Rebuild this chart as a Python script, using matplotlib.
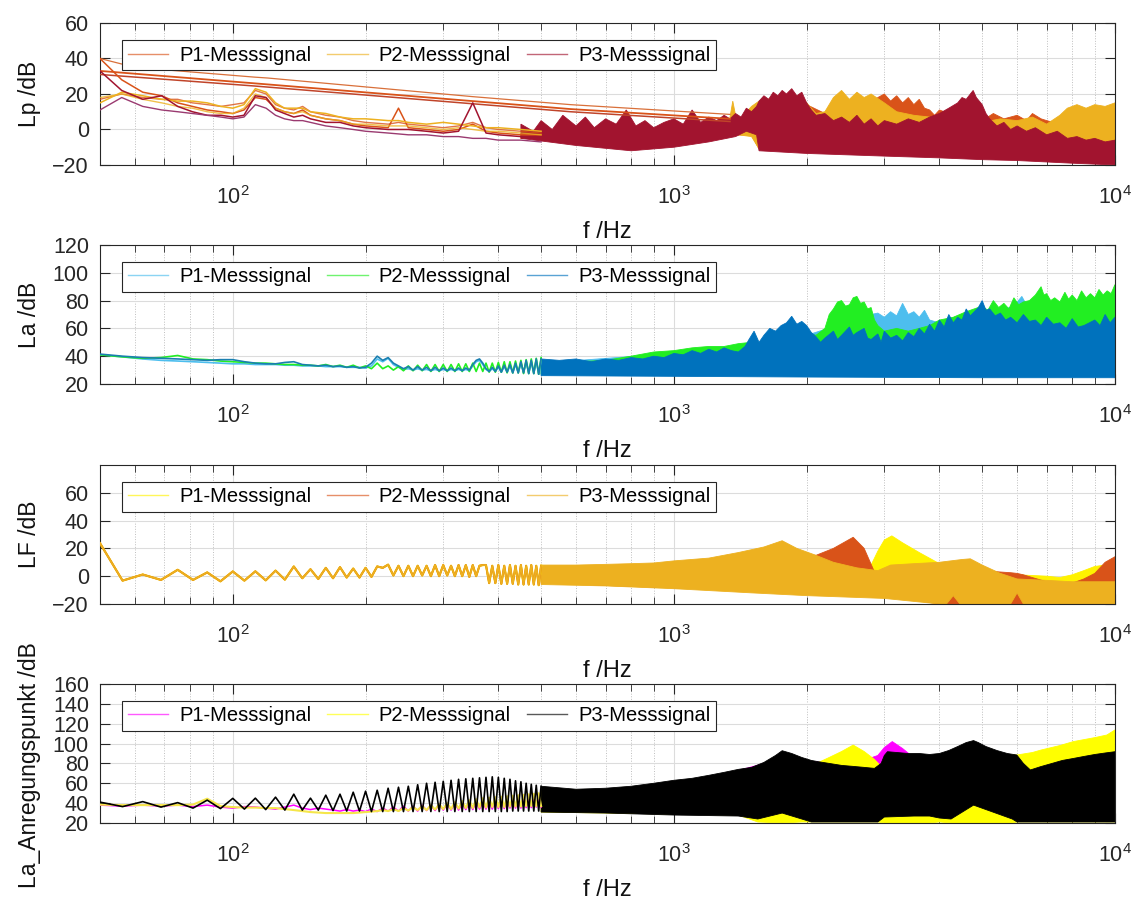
import matplotlib
matplotlib.use('Agg')
import matplotlib.pyplot as plt
from matplotlib.lines import Line2D
from matplotlib.ticker import FixedLocator, LogLocator, NullFormatter

plt.rcParams['font.family'] = ['Liberation Sans', 'DejaVu Sans']
plt.rcParams['mathtext.default'] = 'regular'

# ---- FFT-Raster (6.25 Hz) im niederfrequenten Bereich ----
F_BIN = [50, 56.25, 62.5, 68.75, 75, 81.25, 87.5, 93.75,
         100, 106.25, 112.5, 118.75, 125, 131.25, 137.5, 143.75,
         150, 156.25, 162.5, 168.75, 175, 181.25, 187.5, 193.75,
         200, 206.25, 212.5, 218.75, 225, 231.25, 237.5, 243.75,
         250, 256.25, 262.5, 268.75, 275, 281.25, 287.5, 293.75,
         300, 306.25, 312.5, 318.75, 325, 331.25, 337.5, 343.75,
         350, 356.25, 362.5, 368.75, 375, 381.25, 387.5, 393.75,
         400, 406.25, 412.5, 418.75, 425, 431.25, 437.5, 443.75,
         450, 456.25, 462.5, 468.75, 475, 481.25, 487.5, 493.75,
         500]

# ================= Lp =================
LP_F = [50, 56, 62.5, 69, 75, 81, 87.5, 94, 100, 106, 112.5, 119, 125, 131, 137.5, 144,
        150, 162.5, 175, 187.5, 200, 212.5, 225, 237.5, 250, 275, 300, 325, 350, 375, 400, 450, 500]
LP_P1A = [40, 28, 21, 19, 15, 13, 11, 10, 9, 11, 18, 17, 12, 10, 9, 11,
          8, 6, 5, 3, 2, 1.5, 1, 12, 1, 0, -1, 0, 3, -1, -2, -3, -3]
LP_P1B = [17, 20, 18, 17, 17, 15, 14, 13, 14, 15, 22, 20, 14, 12, 11, 13,
          10, 8, 7, 5, 4, 3.5, 3, 4, 3, 2, 1, 2, 4, 1, 0, -1, -2]
LP_P2A = [15, 21, 19, 17, 16, 16, 15, 13, 12, 14, 23, 21, 15, 12, 12, 12,
          10, 9, 7, 6, 6, 5.5, 5, 5, 4, 3, 4, 3, 2, 1, 1, 0, -1]
LP_P2B = [18, 20, 17, 15, 13, 12, 10, 9, 9, 12, 20, 18, 12, 10, 9, 10,
          8, 6, 5, 3, 3, 2.5, 2, 2, 2, 1, 0, 1, 0, -1, -1, -2, -3]
LP_P3A = [33, 22, 17, 19, 13, 10, 8, 8, 7, 8, 19, 18, 11, 9, 7, 8,
          6, 4, 4, 2, 1, 0.5, 0, 0, 0, -1, -2, -1, 15, -2, -3, -4, -5]
LP_P3B = [11, 18, 13, 11, 10, 9, 8, 7, 6, 7, 14, 12, 8, 6, 5, 5,
          4, 2, 1, 0, -1, -1.5, -2, -2.5, -3, -3, -4, -4, -5, -5, -6, -6, -7]
# gerade Verläufe (gröbere Auflösung)
LP_S_F = [50, 60, 112, 120, 350, 583, 1340]
LP_S1 = [40, 35, 29.5, 29, 18.5, 14, 8.5]
LP_S2_F = [50, 112, 583, 1340]
LP_S2 = [33, 26, 11.5, 6]
LP_S3 = [31, 24.5, 10, 4.5]
# dichter Bereich: obere / untere Hüllkurve
LP_P1_HF_F = [450, 800, 1000, 1300, 1500, 1700, 2000, 2200, 2500, 2800,
              2900, 3000, 3100, 3200, 3300, 3400, 3500, 3600, 3700, 3800,
              3900, 4000, 4300, 4600, 5000, 5300, 5600, 6000, 6300, 6500,
              6800, 7000, 7500, 8000, 8500, 9000, 9500, 10000]
LP_P1_HF_UP = [-3, -2, -1, 0, 10, 17, 14, 9, 12, 14,
               18, 20, 16, 19, 15, 18, 14, 17, 12, 11,
               8, 11, 8, 6, 5, 9, 6, 8, 5, 9,
               6, 5, 3, 2, 4, 3, 6, 12]
LP_P1_HF_LO_F = [450, 1500, 1560, 3000, 10000]
LP_P1_HF_LO = [-5, -3, -11, -13, -17]
LP_P2_HF_F = [450, 600, 800, 1000, 1200, 1330, 1360, 1390, 1450, 1500,
              1560, 1700, 1900, 2000, 2100, 2200, 2300, 2400, 2500, 2600,
              2700, 2800, 3000, 3200, 3500, 3800, 4200, 4600, 5000, 5500,
              6000, 6500, 7000, 7500, 7800, 8200, 8600, 9000, 9500, 10000]
LP_P2_HF_UP = [-2, -1, 0, 0, 1, 2, 16, 4, 9, 13,
               16, 18, 19, 15, 9, 10, 18, 22, 17, 21,
               18, 20, 15, 10, 8, 7, 6, 5, 4, 6,
               5, 7, 3, 8, 12, 14, 12, 14, 13, 15]
LP_P2_HF_LO_F = [450, 1400, 1500, 1560, 3000, 10000]
LP_P2_HF_LO = [-5, -3, -4, -11, -13, -17]
LP_P3_HF_F = [450, 480, 500, 530, 560, 600, 630, 660, 700, 740,
              780, 820, 860, 900, 950, 1000, 1050, 1100, 1150, 1200,
              1250, 1300, 1340, 1380, 1420, 1460, 1500, 1540, 1560, 1600,
              1640, 1680, 1720, 1760, 1800, 1850, 1900, 1950, 2000, 2050,
              2100, 2200, 2300, 2400, 2500, 2600, 2700, 2800, 2900, 3000,
              3200, 3400, 3600, 3800, 4000, 4200, 4400, 4500, 4600, 4700,
              4770, 4850, 5000, 5100, 5200, 5400, 5600, 5800, 6000, 6300,
              6600, 7000, 7400, 7800, 8200, 8600, 9000, 9500, 10000]
LP_P3_HF_UP = [3, -1, 5, 0, 8, 2, 7, 1, 6, 3,
               11, 2, 5, 1, 4, 6, 3, 11, 4, 7,
               5, 8, 6, 9, 7, 12, 10, 13, 16, 19,
               17, 21, 19, 22, 20, 23, 19, 21, 15, 11,
               8, 9, 5, 7, 4, 8, 3, 6, 2, 5,
               3, 6, 4, 7, 9, 12, 15, 18, 17, 20,
               22, 18, 14, 9, 6, 2, 4, 0, 2, -1,
               1, -3, -1, -5, -4, -6, -5, -7, -6]
LP_P3_HF_LO_F = [450, 600, 800, 1000, 1200, 1380, 1460, 1540, 1560, 2000,
                 3000, 4000, 5000, 6000, 8000, 10000]
LP_P3_HF_LO = [-5, -9, -12, -10, -7, -4, -1, -3, -12, -13.5,
               -15, -16, -17, -17.5, -19, -20]

# ================= La =================
LA_P1_LOW = [41, 39.5, 38, 37, 36.5, 36, 35.5, 35,
             34.5, 34.5, 34, 34, 34, 33.5, 33.5, 33,
             33, 33, 32.5, 32.5, 32.5, 32, 32, 32,
             31.5, 33, 38, 36, 38.5, 34, 32, 30.5,
             31, 30, 31, 30, 30.5, 29.5, 30.5, 29.5,
             30.5, 29.5, 30.5, 29.5, 30.5, 29.5, 30.5, 29.5,
             33, 36, 37, 34, 30.5, 29, 31, 29,
             32, 28.5, 32.5, 28.5, 33, 28, 34, 28,
             35, 28, 36, 27.5, 36, 27.5, 37, 27,
             37]
LA_P2_LOW = [41, 39.5, 38.5, 39, 40.5, 38, 37.5, 36.5,
             36, 35.5, 35, 35, 34.5, 34, 34, 33.5,
             33.5, 33, 34, 32.5, 33.5, 32, 33.5, 31.5,
             33, 31, 35, 31, 33, 30, 32.5, 29.5,
             33, 29.5, 33.5, 29.5, 34, 29, 34, 29,
             34, 29, 34, 29, 34.5, 29, 34.5, 29,
             35, 29, 35, 29, 35, 28.5, 35, 28.5,
             35.5, 28.5, 36, 28, 36, 28, 36.5, 28,
             37, 27.5, 37.5, 27.5, 38, 27.5, 38.5, 27,
             39]
LA_P3_LOW = [41.5, 40, 39, 38.5, 38, 37.5, 37, 37.5,
             37.5, 36, 35, 34.5, 34.5, 35.5, 36, 34,
             33.5, 33, 33.5, 32.5, 33, 32, 32.5, 31.5,
             32, 35, 40, 37, 39, 35, 33, 31,
             32.5, 30, 32.5, 30, 32, 29.5, 32, 29.5,
             31.5, 29.5, 31.5, 29.5, 31.5, 29.5, 31.5, 30,
             34, 37, 38, 35, 31, 29, 32, 29,
             33, 28.5, 33.5, 28.5, 34, 28, 35, 28,
             36, 28, 37, 27.5, 37, 27.5, 38, 27,
             38]
LA_P1_HF_F = [500, 1000, 1500, 2000, 2500, 2800, 2900, 3000, 3100, 3200,
              3300, 3400, 3500, 3600, 3700, 3800, 4000, 4500, 5000, 5500,
              5900, 6150, 6300, 6600, 7000, 8000, 9000, 10000]
LA_P1_HF_UP = [35, 42, 48, 55, 65, 70, 71, 68, 72, 69,
               78, 70, 72, 68, 73, 66, 64, 70, 73, 73,
               76, 83, 77, 78, 76, 76, 80, 84]
LA_P2_HF_F = [500, 600, 700, 800, 900, 1000, 1100, 1200, 1300, 1400,
              1500, 1560, 1700, 1800, 1900, 2000, 2100, 2200, 2250, 2300,
              2350, 2400, 2450, 2500, 2550, 2600, 2650, 2700, 2750, 2800,
              2850, 2900, 3000, 3200, 3400, 3600, 3800, 4000, 4300, 4600,
              5000, 5150, 5300, 5450, 5600, 5750, 5900, 6050, 6200, 6400,
              6600, 6800, 6900, 7000, 7150, 7300, 7500, 7700, 7850, 8000,
              8200, 8400, 8600, 8800, 9000, 9200, 9400, 9600, 9800, 10000]
LA_P2_HF_UP = [36, 36, 37, 40, 43, 44, 46, 47, 47, 49,
               50, 49, 55, 60, 58, 57, 55, 60, 70, 74,
               79, 80, 76, 77, 82, 83, 78, 79, 74, 75,
               66, 62, 58, 60, 58, 60, 62, 66, 68, 72,
               76, 73, 80, 75, 78, 74, 82, 77, 79, 80,
               84, 90, 84, 85, 80, 82, 79, 86, 81, 84,
               80, 87, 82, 85, 82, 88, 84, 87, 85, 91.5]
LA_P3_HF_F = [500, 550, 600, 650, 700, 750, 800, 850, 900, 950,
              1000, 1050, 1100, 1150, 1200, 1250, 1300, 1350, 1400, 1450,
              1480, 1520, 1560, 1600, 1650, 1700, 1750, 1800, 1850, 1900,
              1950, 2000, 2050, 2100, 2150, 2200, 2300, 2350, 2400, 2500,
              2550, 2600, 2700, 2750, 2800, 2900, 2950, 3000, 3100, 3200,
              3300, 3400, 3500, 3600, 3700, 3800, 3900, 4000, 4100, 4200,
              4300, 4400, 4500, 4600, 4700, 4800, 4900, 5000, 5100, 5200,
              5350, 5500, 5650, 5800, 6000, 6200, 6400, 6600, 6800, 7000,
              7250, 7500, 7750, 8000, 8250, 8500, 8750, 9000, 9250, 9500,
              9750, 10000]
LA_P3_HF_UP = [38, 37, 38, 36, 38, 37, 39, 38, 40, 39,
               42, 41, 44, 42, 45, 43, 46, 44, 43, 47,
               52, 58, 50, 55, 60, 58, 62, 64, 68.7, 63,
               65, 62, 57, 54, 50, 53, 58, 52, 55, 61,
               55, 57, 60, 53, 52, 56, 50, 58, 53, 55,
               51, 57, 54, 60, 56, 63, 58, 66, 61, 70,
               64, 68, 66, 74, 69, 72, 75, 80, 73, 74,
               69, 71, 66, 68, 64, 70, 65, 66, 62, 68,
               63, 64, 60, 67, 61, 62, 64, 66, 62, 70,
               64, 68]
LA_LO_F = [500, 1000, 2000, 5000, 10000]
LA_P12_LO = [27, 26.5, 26, 26, 26]
LA_P3_LO = [26, 25.5, 25, 24.5, 24.5]

# ================= LF =================
LF_LOW = [23.7, -3.2, 1.2, -2.7, 4.6, -2.7, 2.7, -3.7,
          3.4, -3.2, 3.5, -3, 4, -2.5, 7, -1.5,
          5, -2, 6, -1.5, 6.5, -1, 5.5, -1,
          6, -0.5, 7, 6, 8.3, 0.5, 7.5, 0,
          7.5, 0, 7.5, 0.5, 7.5, 0, 8, 0,
          8, 0.5, 7.5, 0, 8, 0, 8, -0.5,
          8, 0, 7.5, 8, 8, -5, 7.5, -5,
          8, -5.5, 7.5, -5.5, 8, -5.5, 7.5, -6,
          8, -6, 7.5, -6, 8, -6, 7.5, -6.5,
          7.5]
LF_P1_HF_F = [500, 1000, 2000, 2500, 2800, 2900, 3000, 3120, 3300, 3600,
              4000, 4500, 5000, 5500, 6000, 7000, 7500, 8000, 8500, 9000,
              9500, 10000]
LF_P1_HF_UP = [7, 8, 10, 12, 8, 18, 26, 29, 24, 17,
               9, 6, 4, 2, 1, 0, -1, 1, 4, 7,
               8, 11]
LF_P1_HF_LO_F = [500, 10000]
LF_P1_HF_LO = [-4, -16]
LF_P2_HF_F = [500, 1000, 1500, 1900, 2100, 2300, 2550, 2700, 2850, 3000,
              3500, 4000, 4100, 4300, 4500, 5000, 5500, 5800, 6000, 6200,
              6500, 7000, 7500, 8000, 8500, 9000, 9500, 10000]
LF_P2_HF_UP = [7, 8, 12, 15, 15, 20, 28, 20, 3, 2,
               3, 5, 5, 5, 5, 4, 3, 2.5, 2, 1,
               -1, -4, -6, -5, -2, 2, 10, 14]
LF_P2_HF_LO_F = [500, 3000, 4000, 10000]
LF_P2_HF_LO = [-5, -14, -20, -20]
LF_P3_HF_F = [500, 600, 700, 800, 900, 1000, 1200, 1400, 1600, 1760,
              1900, 2100, 2300, 2600, 2900, 3100, 3500, 4000, 4500, 4700,
              5000, 5500, 6000, 7000, 8000, 10000]
LF_P3_HF_UP = [8, 8, 8.5, 9, 9.5, 11, 13, 17, 21, 25.5,
               20, 15, 10, 6, 4, 8, 9, 10, 12, 12.5,
               8, 2, -2, -3, -4, -4]
LF_P3_HF_LO_F = [500, 700, 1000, 1500, 2000, 3000, 4000, 4150, 4300, 4450,
                 5800, 6000, 6200, 10000]
LF_P3_HF_LO = [-6, -7, -9, -12, -14, -16, -20, -20, -14, -20,
               -20, -12, -20, -20]

# ================= La_Anregungspunkt =================
AP_P1_LOW = [38, 37, 38, 37, 38, 36.5, 38, 36,
             35, 36.5, 36, 35, 34, 36, 38, 35,
             33.5, 35, 34, 33, 32, 33.5, 32, 33,
             31.5, 34, 31.5, 35, 32, 36, 32, 37,
             32, 37, 32, 38, 32.5, 38, 32.5, 39,
             33, 39, 33, 40, 33, 40, 33.5, 40.5,
             33.5, 41, 34, 41, 34, 41.5, 34, 42,
             34.5, 42, 34.5, 42.5, 35, 43, 35, 43,
             35, 43.5, 35.5, 44, 35.5, 44, 36, 44.5,
             36]
AP_P2_LOW = [38.5, 38, 38, 38, 38, 38.5, 44.5, 37,
             36, 35.5, 35.5, 35, 35, 34, 33, 32,
             31, 30.5, 30, 30, 30, 30, 30, 30.5,
             31, 31.5, 32, 33, 32, 34, 32, 35,
             32.5, 36, 33, 37, 33, 38, 33.5, 39,
             34, 40, 34, 41, 34.5, 42, 35, 43,
             35, 44, 35.5, 45, 35.5, 45.5, 36, 46,
             36, 46.5, 36, 47, 36.5, 47.5, 36.5, 48,
             36.5, 48.5, 37, 49, 37, 49.5, 37, 50,
             37]
AP_P3_LOW = [41, 36.5, 41.5, 36, 40.5, 35, 43, 34.5,
             44.8, 34, 45, 33.5, 46, 33, 49, 33,
             45, 33, 48, 32.5, 49, 32, 51, 32,
             52, 31.5, 53, 31.5, 55, 31.5, 56, 31.5,
             57, 31.5, 58.5, 31.5, 60, 31.5, 61, 31.5,
             62, 31.5, 63, 31.5, 64, 31.5, 64.5, 31.5,
             65, 31.5, 65.5, 31.5, 66, 31.5, 66.5, 31.5,
             66, 31.5, 65, 31.5, 64, 32, 62.5, 32,
             61.5, 32, 60, 32, 59, 32, 58, 32,
             57]
AP_P1_HF_F = [500, 1000, 1760, 2500, 2900, 3000, 3127, 3300, 3450, 4000,
              5000, 6000, 8000, 10000]
AP_P1_HF_UP = [45, 55, 85, 78, 88, 96, 102, 95, 88, 85,
               90, 80, 75, 85]
AP_P1_HF_LO_F = [500, 10000]
AP_P1_HF_LO = [40, 40]
AP_P2_HF_F = [500, 600, 700, 800, 900, 1000, 1200, 1500, 1760, 2128,
              2250, 2400, 2550, 2700, 2850, 2950, 3100, 4000, 5000, 6000,
              6500, 6800, 7500, 8050, 9000, 9585, 10000]
AP_P2_HF_UP = [52, 53, 52, 53, 55, 57, 62, 70, 80, 81,
               86, 92, 98.5, 92, 84, 77, 80, 85, 88, 88.5,
               91, 93.5, 98, 102, 106, 108.6, 113.7]
AP_P2_HF_LO_F = [500, 1400, 1550, 1760, 1950, 2050, 2900, 3000, 3800, 4000,
                 4250, 5850, 6000, 10000]
AP_P2_HF_LO = [31, 28, 21, 20, 21, 21, 21, 20, 20, 21,
               20, 20, 21, 21]
AP_P3_HF_F = [500, 600, 700, 800, 900, 1000, 1100, 1200, 1300, 1400,
              1500, 1600, 1700, 1760, 1850, 1950, 2050, 2128, 2250, 2400,
              2550, 2700, 2850, 2950, 3000, 3050, 3200, 3400, 3600, 3800,
              4000, 4200, 4400, 4600, 4780, 4900, 5100, 5400, 5700, 5990,
              6200, 6430, 6780, 7200, 7600, 8050, 8500, 9000, 9500, 10000]
AP_P3_HF_UP = [57, 54, 55, 57, 60, 63, 65, 68, 71, 74,
               76, 81, 88, 92.8, 90, 86, 83, 81.7, 80, 78,
               77, 76, 75, 80, 88, 91.8, 91, 90, 90, 89,
               90, 93, 97, 101, 103, 101, 97, 93, 90, 88.5,
               80, 73.4, 76.7, 80, 83, 85, 87, 89, 90.5, 91.8]
AP_P3_HF_LO_F = [500, 700, 1000, 1400, 1550, 1760, 1950, 2050, 2900, 3000,
                 3500, 3800, 4000, 4250, 4780, 5850, 6000, 10000]
AP_P3_HF_LO = [31, 30, 28, 27, 24, 30, 24, 21, 21, 26,
               27, 27, 25, 24, 38, 24, 21, 21]

LEGEND = ['P1-Messsignal', 'P2-Messsignal', 'P3-Messsignal']
AXCOL = '#262626'


def band(ax, fu, vu, fl, vl, col):
    xs = list(fu) + list(fl)[::-1]
    ys = list(vu) + list(vl)[::-1]
    ax.fill(xs, ys, color=col, lw=0.6, ec=col, zorder=2)


def style(ax, ylim, yticks, ylabel, cols, ylab_y=0.5):
    ax.set_xscale('log')
    ax.set_xlim(50, 10000)
    ax.set_ylim(*ylim)
    ax.set_yticks(yticks)
    ax.xaxis.set_major_locator(FixedLocator([100, 1000, 10000]))
    ax.xaxis.set_minor_locator(LogLocator(base=10, subs=(2, 3, 4, 5, 6, 7, 8, 9)))
    ax.xaxis.set_minor_formatter(NullFormatter())
    ax.set_axisbelow(True)
    ax.grid(True, which='major', color='#DCDCDC', lw=0.8, ls='-')
    ax.grid(True, which='minor', axis='x', color='#BEBEBE', lw=0.7, ls=':')
    ax.tick_params(which='both', direction='in', top=True, right=True, colors=AXCOL)
    ax.tick_params(which='major', length=7, width=0.8, labelsize=15.5)
    ax.tick_params(which='minor', length=5, width=0.6)
    ax.tick_params(axis='x', which='major', pad=15)
    ax.tick_params(axis='y', pad=8)
    for s in ax.spines.values():
        s.set_color(AXCOL); s.set_linewidth(0.8)
    ax.set_xlabel('f /Hz', fontsize=17, labelpad=9, color='#111111')
    ax.set_ylabel(ylabel, fontsize=16.5, color='#111111')
    ax.yaxis.set_label_coords(-0.058, ylab_y)
    hs = [Line2D([], [], color=c, lw=1.0, alpha=0.65) for c in cols]
    lg = ax.legend(hs, LEGEND, loc='upper left', bbox_to_anchor=(0.0217, 0.88), ncol=3,
                   fontsize=14.5, frameon=True, fancybox=False, framealpha=1,
                   edgecolor=AXCOL, borderpad=0.28, borderaxespad=0,
                   handlelength=2.0, handletextpad=0.55, columnspacing=0.8)
    lg.get_frame().set_linewidth(0.8)
    lg.set_zorder(5)


fig = plt.figure(figsize=(11.39, 9.02), dpi=100)
L, W = 0.0878, 0.8911
ax1 = fig.add_axes([L, 0.8171, W, 0.1574])
ax2 = fig.add_axes([L, 0.5743, W, 0.1541])
ax3 = fig.add_axes([L, 0.3304, W, 0.1541])
ax4 = fig.add_axes([L, 0.0876, W, 0.1541])

# ---- Lp ----
C1 = ['#D95319', '#EDB120', '#A2142F']
ax1.plot(LP_S_F, LP_S1, color='#D9703A', lw=0.9, zorder=3)
ax1.plot(LP_S2_F, LP_S2, color='#D95319', lw=1.3, zorder=3)
ax1.plot(LP_S2_F, LP_S3, color='#C0442A', lw=1.1, zorder=3)
ax1.plot(LP_F, LP_P1A, color=C1[0], lw=1.1, zorder=3)
ax1.plot(LP_F, LP_P1B, color=C1[0], lw=1.0, alpha=0.8, zorder=3)
ax1.plot(LP_F, LP_P2A, color=C1[1], lw=1.1, zorder=3)
ax1.plot(LP_F, LP_P2B, color=C1[1], lw=1.0, alpha=0.8, zorder=3)
ax1.plot(LP_F, LP_P3A, color=C1[2], lw=1.1, zorder=3)
ax1.plot(LP_F, LP_P3B, color='#9A3A70', lw=1.0, zorder=3)
band(ax1, LP_P1_HF_F, LP_P1_HF_UP, LP_P1_HF_LO_F, LP_P1_HF_LO, C1[0])
band(ax1, LP_P2_HF_F, LP_P2_HF_UP, LP_P2_HF_LO_F, LP_P2_HF_LO, C1[1])
band(ax1, LP_P3_HF_F, LP_P3_HF_UP, LP_P3_HF_LO_F, LP_P3_HF_LO, C1[2])
style(ax1, (-20, 60), [-20, 0, 20, 40, 60], 'Lp /dB', C1)

# ---- La ----
C2 = ['#4DBEEE', '#22EE22', '#0072BD']
ax2.plot(F_BIN, LA_P1_LOW, color=C2[0], lw=1.2, zorder=3)
ax2.plot(F_BIN, LA_P2_LOW, color=C2[1], lw=1.2, zorder=3)
ax2.plot(F_BIN, LA_P3_LOW, color='#1A7FB0', lw=1.2, zorder=3)
band(ax2, LA_P1_HF_F, LA_P1_HF_UP, LA_LO_F, LA_P12_LO, C2[0])
band(ax2, LA_P2_HF_F, LA_P2_HF_UP, LA_LO_F, LA_P12_LO, C2[1])
band(ax2, LA_P3_HF_F, LA_P3_HF_UP, LA_LO_F, LA_P3_LO, C2[2])
style(ax2, (20, 120), [20, 40, 60, 80, 100, 120], 'La /dB', C2)

# ---- LF ----
C3 = ['#FFF200', '#D95319', '#EDB120']
ax3.plot(F_BIN, LF_LOW, color=C3[0], lw=1.6, zorder=3)
ax3.plot(F_BIN, LF_LOW, color=C3[1], lw=1.3, zorder=3)
ax3.plot(F_BIN, LF_LOW, color=C3[2], lw=1.3, zorder=3)
band(ax3, LF_P1_HF_F, LF_P1_HF_UP, LF_P1_HF_LO_F, LF_P1_HF_LO, C3[0])
band(ax3, LF_P2_HF_F, LF_P2_HF_UP, LF_P2_HF_LO_F, LF_P2_HF_LO, C3[1])
band(ax3, LF_P3_HF_F, LF_P3_HF_UP, LF_P3_HF_LO_F, LF_P3_HF_LO, C3[2])
style(ax3, (-20, 80), [-20, 0, 20, 40, 60], 'LF /dB', C3)

# ---- La_Anregungspunkt ----
C4 = ['#FF00FF', '#FFFF00', '#000000']
ax4.plot(F_BIN, AP_P1_LOW, color=C4[0], lw=1.1, zorder=3)
ax4.plot(F_BIN, AP_P2_LOW, color='#F5E64A', lw=1.5, zorder=3)
ax4.plot(F_BIN, AP_P3_LOW, color=C4[2], lw=1.2, zorder=3)
band(ax4, AP_P1_HF_F, AP_P1_HF_UP, AP_P1_HF_LO_F, AP_P1_HF_LO, C4[0])
band(ax4, AP_P2_HF_F, AP_P2_HF_UP, AP_P2_HF_LO_F, AP_P2_HF_LO, C4[1])
band(ax4, AP_P3_HF_F, AP_P3_HF_UP, AP_P3_HF_LO_F, AP_P3_HF_LO, C4[2])
style(ax4, (20, 160), [20, 40, 60, 80, 100, 120, 140, 160], 'La_Anregungspunkt /dB', C4,
      ylab_y=0.42)

fig.savefig('out.png', dpi=100, facecolor='white')
